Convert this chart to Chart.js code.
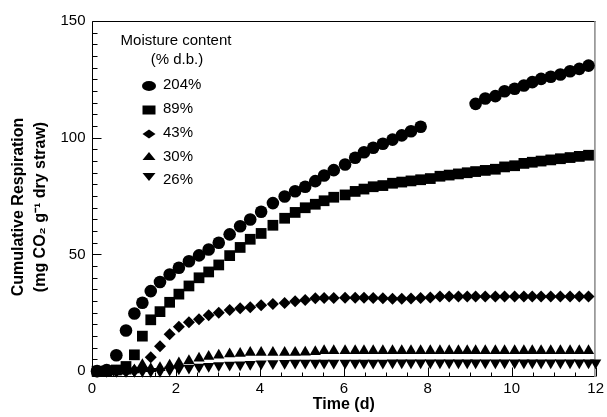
<!DOCTYPE html>
<html>
<head>
<meta charset="utf-8">
<script src="https://cdn.jsdelivr.net/npm/chart.js@4"></script>
<style>html,body{margin:0;padding:0;background:#fff;}canvas{display:block;}</style>
</head>
<body>
<canvas id="c" width="607" height="417"></canvas>
<script>
// ---- data ----
const days = [0.12,0.35,0.58,0.81,1.01,1.20,1.40,1.62,1.85,2.07,
  2.31,2.55,2.78,3.02,3.28,3.53,3.77,4.03,4.31,4.59,
  4.84,5.08,5.32,5.53,5.76,6.03,6.27,6.48,6.70,6.93,
  7.16,7.38,7.60,7.83,8.06,8.29,8.51,8.73,8.94,9.14,
  9.37,9.61,9.83,10.07,10.29,10.49,10.70,10.93,11.16,11.39,
  11.61,11.83,12.0];
const m204 = [0,0.5,6.8,17.4,24.7,29.3,34.3,38.2,41.4,44.3,
  47.1,49.6,52.1,55.0,58.6,62.1,65.0,68.3,72.0,74.8,
  77.1,79.0,81.4,83.8,86.1,88.5,91.4,93.8,95.7,97.4,
  99.2,101.0,102.8,104.7,null,null,null,null,null,114.5,
  116.8,117.8,119.9,121.0,122.4,123.8,125.2,126.1,127.1,128.5,
  129.5,130.9,null];
const m89 = [0,0,0.5,2.0,7.0,15.0,22.0,25.5,29.5,33.0,
  36.5,40.0,42.5,45.5,49.5,53.0,56.5,59.0,62.5,65.5,
  68.0,70.0,71.5,73.0,74.5,75.5,77.0,78.0,79.0,79.5,
  80.5,81.0,81.5,82.0,82.5,83.5,84.0,84.5,85.0,85.5,
  86.0,86.5,87.5,88.0,89.0,89.5,90.0,90.5,91.0,91.5,
  92.0,92.5,null];
const m43 = [0,0,0,0,0.3,1.2,6.0,10.7,15.8,19.0,
  21.0,22.2,24.0,25.0,26.2,27.0,27.4,28.2,28.8,29.2,
  30.0,30.5,31.2,31.3,31.3,31.4,31.4,31.4,31.3,31.2,
  31.0,31.0,31.1,31.3,31.6,32.0,32.0,32.0,32.0,32.0,
  32.0,32.0,32.0,32.0,32.0,32.0,32.0,32.0,32.0,32.0,
  32.0,32.0,null];
const m30 = [0,0,0,0,0.5,2.7,1.0,1.5,2.5,3.5,
  4.5,5.5,6.3,6.8,7.4,7.6,8.0,8.0,8.0,8.0,
  8.0,8.1,8.3,8.7,8.7,8.7,8.7,8.7,8.7,8.7,
  8.7,8.7,8.7,8.7,8.7,8.7,8.7,8.7,8.7,8.7,
  8.7,8.7,8.7,8.7,8.7,8.7,8.7,8.7,8.7,8.7,
  8.7,8.7,null];
const m26 = [0,0,0,0,0,0,0,0,0.5,1.0,
  1.4,1.8,2.1,2.4,2.6,2.8,3.0,3.2,3.3,3.4,
  3.5,3.5,3.5,3.5,3.5,3.5,3.5,3.5,3.5,3.5,
  3.6,3.6,3.6,3.6,3.6,3.6,3.6,3.6,3.6,3.6,
  3.6,3.6,3.6,3.6,3.6,3.6,3.6,3.6,3.6,3.6,
  3.6,3.6,3.6];
const seriesLabels = ['204%','89%','43%','30%','26%'];
const legendTitle = ['Moisture content','(% d.b.)'];
const xTickValues = [0,2,4,6,8,10,12];
const yTickValues = [0,50,100,150];
const xMinorTicks = [0.5,1,1.5,2.5,3,3.5,4.5,5,5.5,6.5,7,7.5,8.5,9,9.5,10.5,11,11.5];
const yMinorTicks = [5,10,15,20,25,30,35,40,45,55,60,65,70,75,80,85,90,95,105,110,115,120,125,130,135,140,145];
const xTitle = 'Time (d)';
const yTitle = ['Cumulative Respiration','(mg CO\u2082 g\u207B\u00B9 dry straw)'];

const FONT = "'Liberation Sans', Arial, Helvetica, sans-serif";

function pts(arr){
  const out = [];
  days.forEach((d,i)=>{ if(arr[i]!==null && arr[i]!==undefined) out.push({x:d,y:arr[i]}); });
  return out;
}

const framePlugin = {
  id:'frame',
  beforeDatasetsDraw(chart){
    const {ctx, chartArea:{left,right,top,bottom}, scales:{x,y}} = chart;
    ctx.save();
    ctx.lineWidth = 1;
    ctx.strokeStyle = '#000';
    const L = Math.round(left)+0.5, B = Math.round(bottom)-0.5, T = Math.round(top)+0.5, R = Math.round(right)-0.5;
    ctx.beginPath();
    ctx.moveTo(L, T); ctx.lineTo(R, T);
    ctx.moveTo(L, T); ctx.lineTo(L, B);
    ctx.moveTo(L, B); ctx.lineTo(R, B);
    ctx.stroke();
    ctx.beginPath();
    xTickValues.forEach(v=>{ const px = Math.round(x.getPixelForValue(v))+0.5; ctx.moveTo(px,B); ctx.lineTo(px,B-9); });
    xMinorTicks.forEach(v=>{ const px = Math.round(x.getPixelForValue(v))+0.5; ctx.moveTo(px,B); ctx.lineTo(px,B-4); });
    yTickValues.forEach(v=>{ const py = Math.round(y.getPixelForValue(v))+0.5; ctx.moveTo(L,py); ctx.lineTo(L+9,py); });
    yMinorTicks.forEach(v=>{ const py = Math.round(y.getPixelForValue(v))+0.5; ctx.moveTo(L,py); ctx.lineTo(L+5,py); });
    ctx.stroke();
    ctx.strokeStyle = '#888';
    ctx.lineWidth = 1.5;
    ctx.beginPath();
    ctx.moveTo(right-0.75, top); ctx.lineTo(right-0.75, bottom);
    ctx.stroke();
    // y-axis title (two lines, rotated)
    ctx.fillStyle = '#000';
    ctx.font = 'bold 16px ' + FONT;
    ctx.textAlign = 'center';
    ctx.textBaseline = 'middle';
    ctx.translate(0, 207);
    ctx.rotate(-Math.PI/2);
    ctx.fillText(yTitle[0], 0, 19);
    ctx.fillText(yTitle[1], 0, 41);
    ctx.restore();
  }
};

function legendShape(ctx, style, cx, cy){
  ctx.beginPath();
  if(style==='circle'){ ctx.ellipse(cx, cy, 7, 5, 0, 0, Math.PI*2); }
  else if(style==='rect'){ ctx.rect(cx-6.5, cy-4.5, 13, 9); }
  else if(style==='rectRot'){ ctx.moveTo(cx-6.5,cy); ctx.lineTo(cx,cy-4.5); ctx.lineTo(cx+6.5,cy); ctx.lineTo(cx,cy+4.5); ctx.closePath(); }
  else if(style==='triangle'){ ctx.moveTo(cx-6.5,cy+4); ctx.lineTo(cx+6.5,cy+4); ctx.lineTo(cx,cy-4); ctx.closePath(); }
  else if(style==='triangleDown'){ ctx.moveTo(cx-6.5,cy-4); ctx.lineTo(cx+6.5,cy-4); ctx.lineTo(cx,cy+4); ctx.closePath(); }
  ctx.fill();
}

const legendPlugin = {
  id:'customLegend',
  afterDraw(chart){
    const ctx = chart.ctx;
    ctx.save();
    ctx.fillStyle = '#000';
    ctx.font = '15px ' + FONT;
    ctx.textAlign = 'center';
    ctx.textBaseline = 'middle';
    ctx.fillText(legendTitle[0], 176, 41);
    ctx.fillText(legendTitle[1], 177, 60);
    const styles = ['circle','rect','rectRot','triangle','triangleDown'];
    const rowsY = [85, 109, 133, 157, 180];
    const markY = [86, 110, 134, 156, 177];
    ctx.textAlign = 'left';
    seriesLabels.forEach((lab,i)=>{
      legendShape(ctx, styles[i], 149, markY[i]);
      ctx.fillText(lab, 163, rowsY[i]);
    });
    ctx.restore();
  }
};

const common = {backgroundColor:'#000', borderColor:'#000', borderWidth:0, clip:false, showLine:false};

new Chart(document.getElementById('c'), {
  type:'scatter',
  data:{datasets:[
    Object.assign({label:seriesLabels[0], data:pts(m204), pointStyle:'circle', pointRadius:6.3}, common),
    Object.assign({label:seriesLabels[1], data:pts(m89), pointStyle:'rect', pointRadius:7.6}, common),
    Object.assign({label:seriesLabels[2], data:pts(m43), pointStyle:'rectRot', pointRadius:6}, common),
    Object.assign({label:seriesLabels[3], data:pts(m30), pointStyle:'triangle', pointRadius:6.5}, common),
    Object.assign({label:seriesLabels[4], data:pts(m26), pointStyle:'triangle', pointRadius:6.5, pointRotation:180}, common)
  ]},
  options:{
    responsive:false,
    animation:false,
    events:[],
    layout:{padding:{top:21,right:8,bottom:0,left:0}},
    plugins:{legend:{display:false}, tooltip:{enabled:false}},
    scales:{
      x:{
        type:'linear', min:0, max:12,
        afterBuildTicks:(a)=>{ a.ticks = xTickValues.map(v=>({value:v})); },
        afterFit:(s)=>{ s.height = 40; },
        grid:{display:false, drawTicks:false},
        border:{display:false},
        ticks:{color:'#000', font:{family:FONT, size:15}, padding:3, maxRotation:0, autoSkip:false},
        title:{display:true, text:xTitle, color:'#000', font:{family:FONT, size:16, weight:'bold'}, padding:{top:0,bottom:3}}
      },
      y:{
        type:'linear', min:-2.5, max:150,
        afterBuildTicks:(a)=>{ a.ticks = yTickValues.map(v=>({value:v})); },
        afterFit:(s)=>{ s.width = 92; },
        grid:{display:false, drawTicks:false},
        border:{display:false},
        ticks:{color:'#000', font:{family:FONT, size:15}, padding:6.5, autoSkip:false},
        title:{display:false}
      }
    }
  },
  plugins:[framePlugin, legendPlugin]
});
</script>
</body>
</html>
